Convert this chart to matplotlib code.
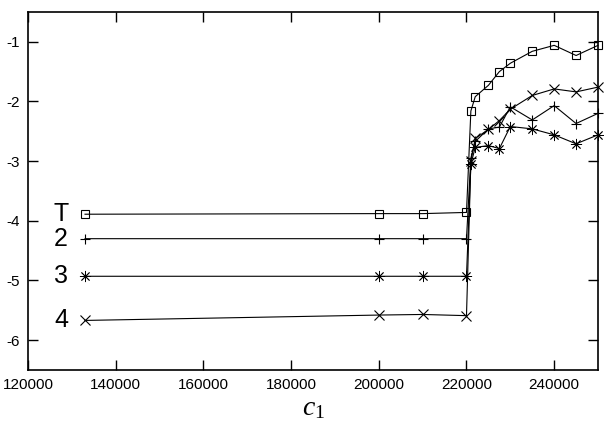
import matplotlib
matplotlib.use("Agg")
import matplotlib.pyplot as plt

plt.rcParams['font.family'] = ['Liberation Sans', 'DejaVu Sans']
plt.rcParams['mathtext.fontset'] = 'custom'
plt.rcParams['mathtext.it'] = 'Liberation Serif:italic'
plt.rcParams['mathtext.rm'] = 'Liberation Serif'

# datos
c1 = [133000, 200000, 210000, 220000, 221000, 222000, 225000, 227500,
      230000, 235000, 240000, 245000, 250000]
serie_T = [-3.89, -3.88, -3.88, -3.86, -2.16, -1.92, -1.73, -1.50,
           -1.36, -1.16, -1.06, -1.23, -1.06]
serie_2 = [-4.30, -4.30, -4.30, -4.30, -2.95, -2.67, -2.46, -2.43,
           -2.09, -2.31, -2.07, -2.37, -2.20]
serie_3 = [-4.93, -4.93, -4.93, -4.93, -3.05, -2.77, -2.74, -2.79,
           -2.42, -2.46, -2.56, -2.71, -2.56]
serie_4 = [-5.67, -5.58, -5.57, -5.59, -3.00, -2.62, -2.47, -2.32,
           -2.13, -1.90, -1.79, -1.84, -1.76]
etiquetas = ["T", "2", "3", "4"]
marcadores = ["s", "+", (8, 2, 0), "x"]
xticks = [120000, 140000, 160000, 180000, 200000, 220000, 240000]
yticks = [-1, -2, -3, -4, -5, -6]

fig = plt.figure(figsize=(6.04, 4.42), dpi=100)
ax = fig.add_axes([0.0464, 0.163, 0.9437, 0.810])

series = [serie_T, serie_2, serie_3, serie_4]
for s, m in zip(series, marcadores):
    if m == "s":
        ax.plot(c1, s, color='black', lw=0.8, marker=m, ms=6,
                mfc='none', mec='black', mew=0.8, clip_on=False)
    elif m == "+" or m == "x":
        ax.plot(c1, s, color='black', lw=0.8, marker=m, ms=7,
                mec='black', mew=0.8, clip_on=False)
    else:
        ax.plot(c1, s, color='black', lw=0.8, marker=m, ms=8,
                mec='black', mew=0.6, clip_on=False)

# etiquetas a la izquierda de cada serie
for s, et in zip(series, etiquetas):
    ax.text(127500, s[0], et, fontsize=18, ha='center', va='center')

ax.set_xlim(120000, 250000)
ax.set_ylim(-6.5, -0.5)
ax.set_xticks(xticks)
ax.set_yticks(yticks)
ax.set_xticklabels([str(v) for v in xticks])
ax.set_yticklabels([str(v) for v in yticks])
ax.tick_params(direction='in', length=7, width=1, top=True, right=True,
               labelsize=11, pad=6)
for sp in ax.spines.values():
    sp.set_linewidth(1.2)

ax.set_xlabel(r"$c_{\mathit{1}}$", fontsize=20, labelpad=2)

fig.savefig("out.png", dpi=100)
